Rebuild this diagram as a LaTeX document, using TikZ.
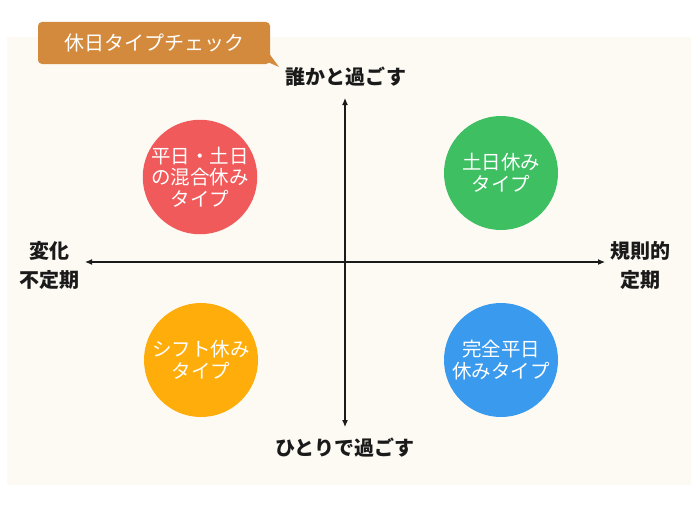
\documentclass[tikz,border=0pt]{standalone}
\usepackage{fontspec}
\newfontfamily\jp{Noto Sans CJK JP}
\usetikzlibrary{arrows.meta}
\definecolor{panel}{HTML}{FDFAF4}
\definecolor{tag}{HTML}{D38A3C}
\definecolor{cred}{HTML}{F05A5A}
\definecolor{cgreen}{HTML}{3DBF62}
\definecolor{cyellow}{HTML}{FFAD0A}
\definecolor{cblue}{HTML}{3A9AEE}
\definecolor{ink}{HTML}{1A1A1A}
\tikzset{
  bubble/.style={circle, minimum size=114pt, inner sep=0pt, text=white, align=center,
    font=\jp\fontsize{19.5}{21.5}\selectfont},
  axislabel/.style={text=ink, align=center, font=\jp\bfseries\fontsize{20}{29}\selectfont, inner sep=0pt},
  axis/.style={draw=ink, line width=1.1pt, -{Latex[length=7pt,width=6pt]}},
}
\begin{document}
\begin{tikzpicture}[x=1pt,y=-1pt]
\useasboundingbox (0,0) rectangle (700,511);
\fill[white] (0,0) rectangle (700,511);
\fill[panel] (7,37) rectangle (691,485);
% title tag
\fill[tag] (263,60) -- (279,67) -- (268,52) -- cycle;
\node[fill=tag, rounded corners=4pt, minimum width=232pt, minimum height=42pt, inner sep=0pt,
  text=white, font=\jp\fontsize{20}{22}\selectfont] (title) at (154,43) {休日タイプチェック};
% axis endpoints
\coordinate (top) at (345,98);
\coordinate (bottom) at (345,427);
\coordinate (left) at (85,262);
\coordinate (right) at (605,262);
\coordinate (vmid) at (345,262);
\draw[axis] (vmid) -- (top);
\draw[axis] (vmid) -- (bottom);
\draw[axis] (vmid) -- (left);
\draw[axis] (vmid) -- (right);
% axis labels
\node[axislabel] (ltop) at (346,77) {誰かと過ごす};
\node[axislabel] (lbottom) at (345,448) {ひとりで過ごす};
\node[axislabel] (lleft) at (49,265) {変化\\不定期};
\node[axislabel] (lright) at (640,265) {規則的\\定期};
% bubbles
\node[bubble, fill=cred] (mix) at (200,177) {平日・土日\\の混合休み\\タイプ};
\node[bubble, fill=cgreen] (weekend) at (501,173) {土日休み\\タイプ};
\node[bubble, fill=cyellow] (shift) at (201,360) {シフト休み\\タイプ};
\node[bubble, fill=cblue] (weekday) at (501,360) {完全平日\\休みタイプ};
\end{tikzpicture}
\end{document}
